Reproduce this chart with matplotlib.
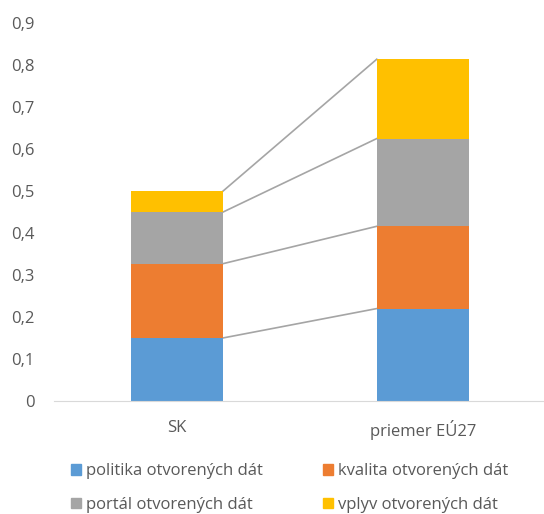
import matplotlib
matplotlib.use('Agg')
import matplotlib.pyplot as plt
import numpy as np
from matplotlib.patches import Patch

categories = ["SK", "priemer EÚ27"]
series_names = ["politika otvorených dát", "kvalita otvorených dát",
                "portál otvorených dát", "vplyv otvorených dát"]
politika = [0.15, 0.22]
kvalita = [0.177, 0.196]
portal = [0.123, 0.209]
vplyv = [0.05, 0.189]
yticks = [0, 0.1, 0.2, 0.3, 0.4, 0.5, 0.6, 0.7, 0.8, 0.9]
ytick_labels = ["0", "0,1", "0,2", "0,3", "0,4", "0,5", "0,6", "0,7", "0,8", "0,9"]

colors = ["#5B9BD5", "#ED7D31", "#A5A5A5", "#FFC000"]
txt = "#595959"
plt.rcParams['font.family'] = ['Open Sans', 'DejaVu Sans']

fig = plt.figure(figsize=(5.44, 5.14), dpi=100)
ax = fig.add_axes([0.0993, 0.22, 0.904, 0.735])

x = np.arange(len(categories))
w = 0.375
bottom = np.zeros(len(categories))
for vals, c in zip([politika, kvalita, portal, vplyv], colors):
    ax.bar(x, vals, w, bottom=bottom, color=c, zorder=2)
    bottom = bottom + np.array(vals)
    # series lines between bar tops
    ax.plot([x[0] + w / 2, x[1] - w / 2], [bottom[0], bottom[1]],
            color="#A5A5A5", lw=1.2, zorder=1)

ax.set_xlim(-0.5, 1.5)
ax.set_ylim(0, 0.9)
ax.set_yticks(yticks)
ax.set_yticklabels(ytick_labels)
ax.set_xticks(x)
ax.set_xticklabels(categories)
ax.tick_params(length=0, colors=txt, labelsize=12)
ax.tick_params(axis='x', pad=14)
ax.tick_params(axis='y', pad=14)
for s in ['top', 'right', 'left']:
    ax.spines[s].set_visible(False)
ax.spines['bottom'].set_color("#D9D9D9")

# matplotlib fills legend columns first, so reorder to get row-wise layout
order = [0, 2, 1, 3]
handles = [Patch(color=colors[i]) for i in order]
labels = [series_names[i] for i in order]
fig.legend(handles, labels, loc='lower left', bbox_to_anchor=(0.103, -0.027),
           ncol=2, frameon=False, handlelength=0.6, handleheight=0.6,
           handletextpad=0.3, columnspacing=3.6, labelspacing=1.05,
           fontsize=12, labelcolor=txt)

plt.savefig("out.png")
